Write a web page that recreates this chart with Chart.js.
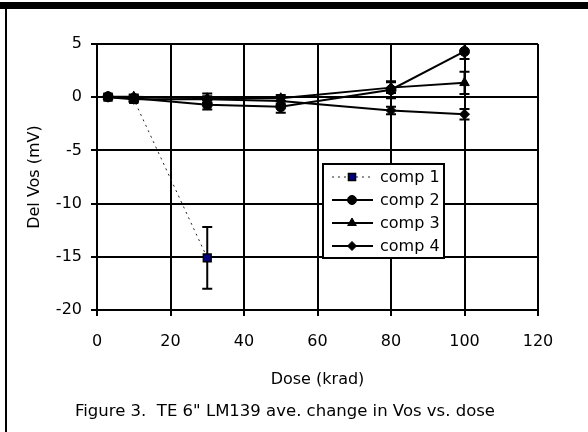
<!DOCTYPE html>
<html>
<head>
<meta charset="utf-8">
<script src="https://cdn.jsdelivr.net/npm/chart.js@4"></script>
<style>
  html, body { margin: 0; padding: 0; background: #fff; }
  #wrap { position: relative; width: 588px; height: 432px; overflow: hidden; }
  #topbar { position: absolute; left: 0; top: 2px; width: 588px; height: 7px; background: #000; }
  #leftline { position: absolute; left: 5px; top: 2px; width: 2px; height: 430px; background: #000; }
  #caption { position: absolute; left: 75px; top: 401px; font: 16.5px 'DejaVu Sans', sans-serif; color: #000; white-space: pre; }
</style>
</head>
<body>
<div id="wrap">
  <canvas id="myChart" width="588" height="432"></canvas>
  <div id="topbar"></div>
  <div id="leftline"></div>
  <div id="caption">Figure 3.  TE 6" LM139 ave. change in Vos vs. dose</div>
</div>
<script>
'use strict';

// doses (krad)
const doses = [3, 10, 30, 50, 80, 100];
const comp1Doses = [3, 10, 30];

// ave. change in Vos (mV) and error bar half-widths
const comp1 = [0, -0.2, -15.1];
const comp1Err = [0.2, 0.2, 2.9];
const comp2 = [0.05, -0.1, -0.7, -0.9, 0.7, 4.3];
const comp2Err = [0.2, 0.25, 0.45, 0.55, 0.8, 0.7];
const comp3 = [0.05, 0.05, -0.1, -0.1, 0.9, 1.35];
const comp3Err = [0.2, 0.2, 0.45, 0.3, 0.5, 1.05];
const comp4 = [0, -0.2, -0.2, -0.35, -1.25, -1.6];
const comp4Err = [0.2, 0.25, 0.3, 0.3, 0.35, 0.5];

const seriesNames = ['comp 1', 'comp 2', 'comp 3', 'comp 4'];
const xTicks = [0, 20, 40, 60, 80, 100, 120];
const yTicks = [5, 0, -5, -10, -15, -20];

const FONT = "'DejaVu Sans', sans-serif";

function toPoints(xs, ys) {
  return ys.map(function (y, i) { return { x: xs[i], y: y }; });
}

const datasets = [
  {
    label: seriesNames[0], data: toPoints(comp1Doses, comp1), errors: comp1Err,
    borderColor: '#222', borderWidth: 1, borderDash: [2, 4],
    pointStyle: 'rect', pointRadius: 5.5, pointBackgroundColor: '#000080',
    pointBorderColor: '#000', pointBorderWidth: 1.5, order: 10
  },
  {
    label: seriesNames[1], data: toPoints(doses, comp2), errors: comp2Err,
    borderColor: '#000', borderWidth: 2,
    pointStyle: 'circle', pointRadius: 5, pointBackgroundColor: '#000',
    pointBorderColor: '#000', pointBorderWidth: 1, order: 1
  },
  {
    label: seriesNames[2], data: toPoints(doses, comp3), errors: comp3Err,
    borderColor: '#000', borderWidth: 2,
    pointStyle: 'triangle', pointRadius: 5.5, pointBackgroundColor: '#000',
    pointBorderColor: '#000', pointBorderWidth: 1, order: 2
  },
  {
    label: seriesNames[3], data: toPoints(doses, comp4), errors: comp4Err,
    borderColor: '#000', borderWidth: 2,
    pointStyle: 'rectRot', pointRadius: 5, pointBackgroundColor: '#000',
    pointBorderColor: '#000', pointBorderWidth: 1, order: 3
  }
];

// vertical error bars with caps
const errorBars = {
  id: 'errorBars',
  beforeDatasetsDraw(chart) {
    const ctx = chart.ctx;
    const xs = chart.scales.x, ys = chart.scales.y;
    ctx.save();
    ctx.strokeStyle = '#000';
    ctx.lineWidth = 2;
    chart.data.datasets.forEach(function (ds) {
      ds.data.forEach(function (p, i) {
        const e = ds.errors[i];
        const px = xs.getPixelForValue(p.x);
        const top = ys.getPixelForValue(p.y + e);
        const bot = ys.getPixelForValue(p.y - e);
        ctx.beginPath();
        ctx.moveTo(px, top); ctx.lineTo(px, bot);
        ctx.moveTo(px - 5, top); ctx.lineTo(px + 5, top);
        ctx.moveTo(px - 5, bot); ctx.lineTo(px + 5, bot);
        ctx.stroke();
      });
    });
    ctx.restore();
  }
};

// boxed legend inside the plot
const boxLegend = {
  id: 'boxLegend',
  afterDraw(chart) {
    const ctx = chart.ctx;
    const bx = 323, by = 164, bw = 121, bh = 94;
    ctx.save();
    ctx.fillStyle = '#fff';
    ctx.fillRect(bx, by, bw, bh);
    ctx.strokeStyle = '#000';
    ctx.lineWidth = 2;
    ctx.strokeRect(bx, by, bw, bh);
    chart.data.datasets.forEach(function (ds, i) {
      const y = by + 13 + i * 23;
      ctx.beginPath();
      ctx.strokeStyle = ds.borderColor;
      ctx.lineWidth = ds.borderWidth;
      ctx.setLineDash(ds.borderDash || []);
      ctx.moveTo(332, y); ctx.lineTo(373, y);
      ctx.stroke();
      ctx.setLineDash([]);
      ctx.fillStyle = ds.pointBackgroundColor;
      ctx.strokeStyle = ds.pointBorderColor;
      ctx.lineWidth = ds.pointBorderWidth;
      Chart.helpers.drawPoint(ctx, { pointStyle: ds.pointStyle, radius: ds.pointRadius - 0.5, borderWidth: ds.pointBorderWidth }, 352, y);
      ctx.fillStyle = '#000';
      ctx.font = '16px ' + FONT;
      ctx.textBaseline = 'middle';
      ctx.textAlign = 'left';
      ctx.fillText(ds.label, 380, y + 1);
    });
    ctx.restore();
  }
};

const ctx = document.getElementById('myChart').getContext('2d');

const myChart = new Chart(ctx, {
  type: 'line',
  data: { datasets: datasets },
  plugins: [errorBars, boxLegend],
  options: {
    responsive: false,
    animation: false,
    devicePixelRatio: 1,
    layout: { padding: { left: 8, right: 50, top: 44, bottom: 43 } },
    plugins: { legend: { display: false }, tooltip: { enabled: false } },
    scales: {
      x: {
        type: 'linear', min: 0, max: 120,
        afterBuildTicks(s) { s.ticks = xTicks.map(function (v) { return { value: v }; }); },
        afterFit(s) { s.height = 79; },
        grid: { color: '#000', lineWidth: 2, tickLength: 6 },
        border: { color: '#000', width: 2 },
        ticks: { color: '#000', padding: 16, font: { size: 16, family: FONT } },
        title: { display: true, text: 'Dose (krad)', color: '#000', padding: { top: 0, bottom: 0 }, font: { size: 16, family: FONT } }
      },
      y: {
        min: -20, max: 5,
        afterBuildTicks(s) { s.ticks = yTicks.map(function (v) { return { value: v }; }); },
        afterFit(s) { s.width = 89; },
        grid: { color: '#000', lineWidth: 2, tickLength: 6 },
        border: { color: '#000', width: 2 },
        ticks: { color: '#000', padding: 9, font: { size: 16, family: FONT } },
        title: { display: true, text: 'Del Vos (mV)', color: '#000', padding: { top: 17, bottom: 0 }, font: { size: 16, family: FONT } }
      }
    }
  }
});
</script>
</body>
</html>
